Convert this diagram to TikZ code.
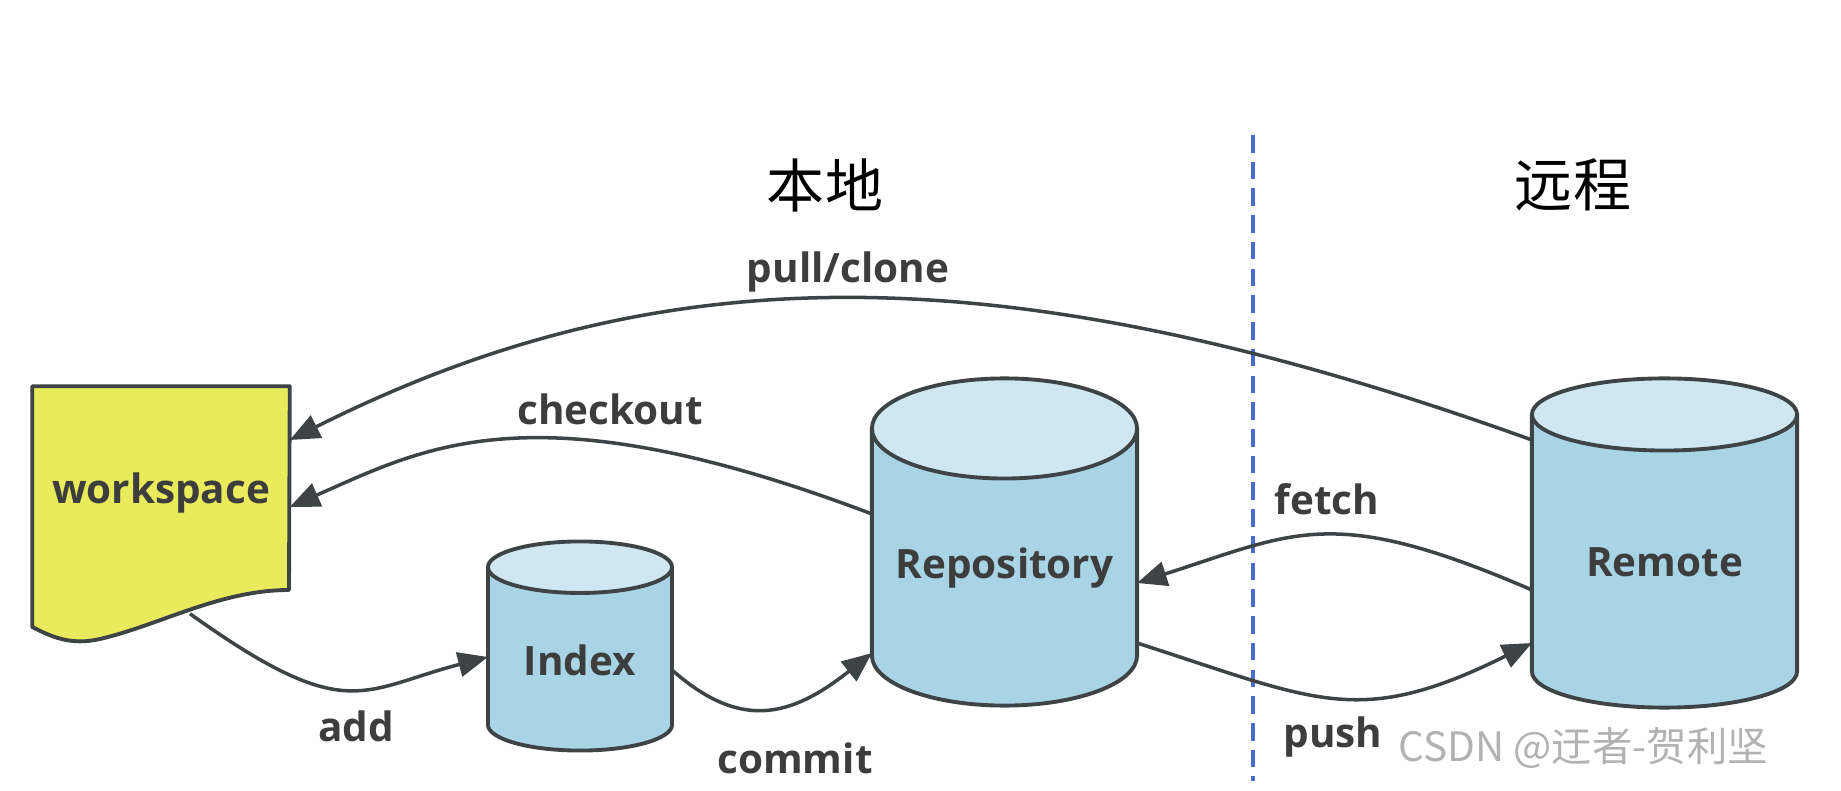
\documentclass[tikz,border=0pt]{standalone}
\usepackage{fontspec}
\setmainfont{Open Sans}
\newfontfamily\cjk{Noto Sans CJK SC}
\usepackage{tikz}
\usetikzlibrary{positioning,shapes,arrows.meta,calc}
\pgfdeclarelayer{background}
\pgfsetlayers{background,main}
\definecolor{dbbody}{HTML}{A8D4E6}
\definecolor{dbtop}{HTML}{CFE7F0}
\definecolor{wsyellow}{HTML}{E9EA5C}
\definecolor{linegray}{HTML}{3E4346}
\definecolor{txtgray}{HTML}{3D3D3D}
\definecolor{sepblue}{HTML}{4A6CCB}

\begin{document}
\begin{tikzpicture}[x=0.01cm,y=-0.01cm,
    db/.style={draw=linegray, line width=1.1pt, cylinder, cylinder uses custom fill, cylinder body fill=dbbody, cylinder end fill=dbtop, aspect=0.46, shape border rotate=90, inner sep=0pt, anchor=shape center, font=\bfseries\fontsize{11.5}{13}\selectfont, text=txtgray},
    lbl/.style={font=\bfseries\fontsize{11.5}{13}\selectfont, text=txtgray, inner sep=0pt},
    flow/.style={draw=linegray, line width=1pt, -{Triangle[length=8.5pt,width=7pt]}}]
    \begin{pgfonlayer}{background}
    \path[use as bounding box, fill=white] (0,0) rectangle (1841,791);
    \end{pgfonlayer}
    % headings and the border between local and remote
    \node[font=\cjk\fontsize{16.5}{18}\selectfont, text=black] (local) at (825,185) {本地};
    \node[font=\cjk\fontsize{16.5}{18}\selectfont, text=black] (far) at (1573,185) {远程};
    \coordinate (septop) at (1253,135);
    \coordinate (sepbot) at (1253,781);
    \draw[sepblue, line width=0.9pt, dash pattern=on 5pt off 2.6pt](septop)--(sepbot);
    % workspace sheet
    \node[lbl, minimum width=2.56cm, minimum height=2.12cm](ws) at (161,493){workspace};
    \begin{pgfonlayer}{background}
    \draw[draw=linegray, line width=1.1pt, fill=wsyellow, line join=round](ws.north west)--(ws.north east)--(289,590)
        .. controls (220,590) and (160,625) .. (100,639)
        .. controls (70,646) and (50,636) .. (ws.west |- 0,627)--cycle;
    \end{pgfonlayer}
    % stores
    \node[db, minimum width=1.84cm, minimum height=2.09cm](index) at (580,646){Index};
    \node[db, minimum width=2.65cm, minimum height=3.27cm](repo) at (1004.5,542){Repository};
    \node[db, minimum width=2.65cm, minimum height=3.29cm](remote) at (1664.5,543){Remote};
    % commands
    \draw[flow]($(remote.shape center)+(-132.5,-103)$) .. controls (993,246) and (653,258) .. ($(ws.east)+(0,-53)$);
    \node[lbl](pull) at (848,272){pull/clone};
    \draw[flow]($(repo.shape center)+(-132.5,-28)$) .. controls (534,386) and (426,447) .. ($(ws.east)+(0,14)$);
    \node[lbl](checkout) at (610,409){checkout};
    \draw[flow]($(ws.south)+(29,14)$) .. controls (347,726) and (361,690) .. ($(index.shape center)+(-92,11)$);
    \node[lbl](add) at (356,726){add};
    \draw[flow]($(index.shape center)+(92,24)$) .. controls (740,730) and (790,718) .. ($(repo.shape center)+(-132.5,111)$);
    \node[lbl](commit) at (795,758){commit};
    \draw[flow]($(remote.shape center)+(-132.5,47)$) .. controls (1333,504) and (1296,532) .. ($(repo.shape center)+(132.5,41)$);
    \node[lbl](fetch) at (1327,499){fetch};
    \draw[flow]($(repo.shape center)+(132.5,101)$) .. controls (1318,701) and (1358,729) .. ($(remote.shape center)+(-132.5,100)$);
    \node[lbl](push) at (1333,737){push};
    \node[font=\cjk\fontsize{11.5}{13}\selectfont, text=gray!60, anchor=west, inner sep=0pt](mark) at (1398,748){CSDN @迂者-贺利坚};
\end{tikzpicture}
\end{document}
